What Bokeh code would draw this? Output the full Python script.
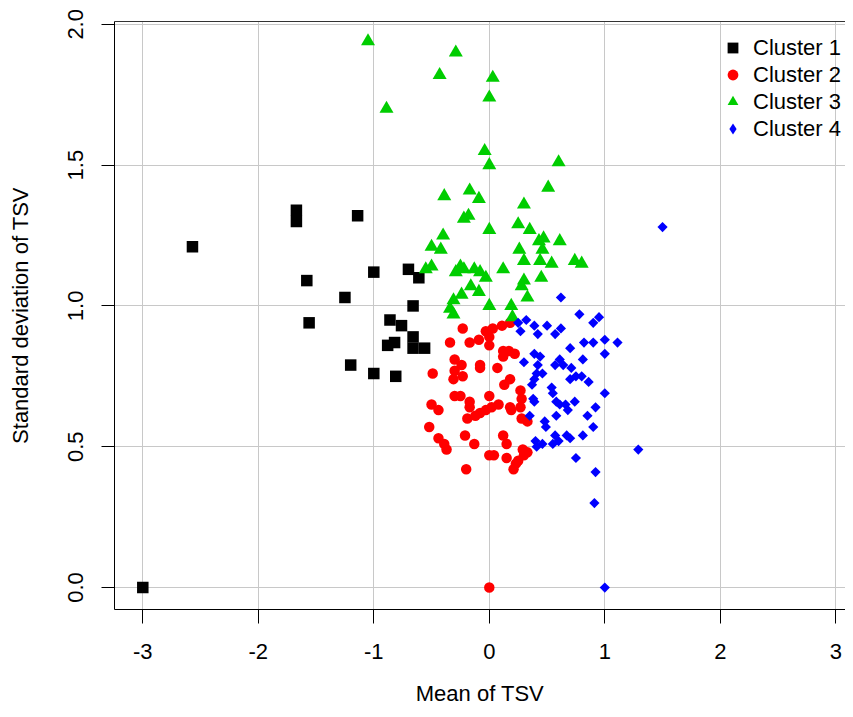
import numpy as np
from bokeh.plotting import figure
from bokeh.models import (Range1d, FixedTicker, PrintfTickFormatter, Legend,
                          LegendItem, LinearAxis)
from bokeh.embed import file_html
from bokeh.resources import INLINE

# ---------------- data ----------------
labels = ["Cluster 1", "Cluster 2", "Cluster 3", "Cluster 4"]
x_ticks = [-3, -2, -1, 0, 1, 2, 3]
y_ticks = [0.0, 0.5, 1.0, 1.5, 2.0]

c1_x = [-2.57, -1.67, -1.67, -1.14, -1.00, -0.70, -0.61, -1.58, -1.25, -0.66,
        -1.56, -0.86, -0.76, -0.82, -0.88, -0.66, -0.66, -0.56, -1.20, -1.00,
        -0.81, -3.00]
c1_y = [1.21, 1.34, 1.30, 1.32, 1.12, 1.13, 1.10, 1.09, 1.03, 1.00,
        0.94, 0.95, 0.93, 0.87, 0.86, 0.89, 0.85, 0.85, 0.79, 0.76,
        0.75, 0.00]

c2_x = [-0.23, -0.03, 0.03, 0.00, 0.11, 0.18, -0.34, -0.17, -0.09, 0.00,
        0.12, 0.17, 0.22, 0.12, -0.30, -0.24, -0.30, -0.08, -0.08, 0.07,
        -0.49, -0.31, -0.23, 0.18, 0.13, 0.27, -0.30, -0.25, -0.17, 0.00,
        0.08, 0.28, -0.50, -0.44, -0.17, 0.02, -0.03, -0.08, -0.12, -0.19,
        0.18, 0.19, 0.27, 0.28, 0.33, -0.52, -0.21, 0.12, -0.44, -0.39,
        -0.37, -0.13, 0.15, 0.29, 0.33, 0.30, 0.00, 0.04, 0.15, 0.25,
        0.23, 0.21, -0.20, 0.00]
c2_y = [0.92, 0.91, 0.92, 0.89, 0.93, 0.94, 0.87, 0.87, 0.88, 0.86,
        0.84, 0.84, 0.83, 0.82, 0.81, 0.79, 0.77, 0.79, 0.78, 0.78,
        0.76, 0.74, 0.75, 0.74, 0.72, 0.70, 0.68, 0.68, 0.66, 0.68,
        0.65, 0.67, 0.65, 0.63, 0.64, 0.64, 0.63, 0.62, 0.61, 0.60,
        0.64, 0.63, 0.64, 0.60, 0.59, 0.57, 0.54, 0.54, 0.53, 0.51,
        0.49, 0.51, 0.51, 0.49, 0.48, 0.47, 0.47, 0.47, 0.46, 0.45,
        0.44, 0.42, 0.42, 0.00]

c3_x = [-1.05, -0.29, -0.43, 0.03, 0.00, -0.89, -0.04, 0.00, 0.60, 0.51,
        -0.17, -0.39, -0.09, 0.30, -0.22, -0.18, 0.00, 0.25, 0.35, -0.40,
        -0.50, -0.42, 0.43, 0.47, 0.46, 0.61, 0.26, 0.30, 0.44, 0.54,
        0.74, 0.80, -0.50, -0.55, -0.25, -0.22, -0.29, -0.13, -0.08, -0.03,
        0.12, 0.45, 0.30, 0.28, -0.16, -0.09, -0.24, -0.31, 0.33, -0.34,
        -0.31, 0.00, 0.19, 0.20]
c3_y = [1.94, 1.90, 1.82, 1.81, 1.74, 1.70, 1.55, 1.50, 1.51, 1.42,
        1.41, 1.39, 1.38, 1.36, 1.31, 1.32, 1.27, 1.29, 1.27, 1.25,
        1.21, 1.20, 1.23, 1.24, 1.20, 1.23, 1.20, 1.16, 1.16, 1.15,
        1.16, 1.15, 1.14, 1.13, 1.14, 1.13, 1.12, 1.13, 1.12, 1.10,
        1.13, 1.10, 1.09, 1.07, 1.07, 1.05, 1.04, 1.02, 1.03, 0.99,
        0.97, 1.00, 1.00, 0.96]

c4_x = [0.62, 0.78, 0.90, 0.95, 0.25, 0.32, 0.39, 0.50, 0.27, 0.42,
        0.57, 0.62, 0.82, 0.90, 1.00, 1.11, 1.00, 0.70, 0.81, 0.30,
        0.39, 0.44, 0.42, 0.57, 0.61, 0.64, 0.71, 0.46, 0.41, 0.75,
        0.80, 0.70, 0.86, 0.39, 0.37, 0.54, 0.55, 1.00, 0.38, 0.39,
        0.58, 0.61, 0.74, 0.66, 0.68, 0.58, 0.92, 0.35, 0.85, 0.48,
        0.49, 0.90, 0.81, 0.67, 0.70, 0.57, 0.60, 0.55, 0.40, 0.46,
        0.41, 0.75, 1.29, 0.92, 0.91, 1.50, 1.00]
c4_y = [1.03, 0.97, 0.94, 0.96, 0.94, 0.95, 0.93, 0.93, 0.91, 0.90,
        0.90, 0.92, 0.87, 0.87, 0.88, 0.87, 0.83, 0.85, 0.81, 0.80,
        0.83, 0.82, 0.79, 0.79, 0.81, 0.79, 0.78, 0.76, 0.76, 0.75,
        0.75, 0.74, 0.73, 0.74, 0.72, 0.71, 0.69, 0.69, 0.67, 0.66,
        0.66, 0.65, 0.66, 0.65, 0.63, 0.61, 0.64, 0.61, 0.61, 0.59,
        0.57, 0.57, 0.54, 0.54, 0.53, 0.54, 0.52, 0.51, 0.52, 0.51,
        0.50, 0.46, 0.49, 0.41, 0.30, 1.28, 0.00]

FONT = "Liberation Sans"
BLACK, RED, GREEN, BLUE = "#000000", "#FF0000", "#00CD00", "#0000FF"

p = figure(width=845, height=709, output_backend="svg", toolbar_location=None,
           x_range=Range1d(-3.245, 3.084), y_range=Range1d(-0.078, 2.010),
           min_border_left=114, min_border_right=0, min_border_top=21,
           min_border_bottom=100)
p.outline_line_color = None
p.background_fill_color = "white"

# axes
for ax in (p.xaxis[0], p.yaxis[0]):
    ax.axis_line_color = "black"
    ax.axis_line_width = 1
    ax.major_tick_line_color = "black"
    ax.major_tick_line_width = 1
    ax.major_tick_in = 0
    ax.minor_tick_line_color = None
    ax.major_label_text_font = FONT
    ax.major_label_text_font_size = "22px"
    ax.major_label_text_color = "black"
    ax.axis_label_text_font = FONT
    ax.axis_label_text_font_size = "22px"
    ax.axis_label_text_font_style = "normal"
    ax.axis_label_text_color = "black"

p.xaxis.ticker = FixedTicker(ticks=x_ticks)
p.xaxis.formatter = PrintfTickFormatter(format="%d")
p.xaxis.major_tick_out = 14
p.xaxis.major_label_standoff = 20
p.xaxis.axis_label = "Mean of TSV"
p.xaxis.axis_label_standoff = 19

p.yaxis.ticker = FixedTicker(ticks=y_ticks)
p.yaxis.formatter = PrintfTickFormatter(format="%.1f")
p.yaxis.major_tick_out = 13
p.yaxis.major_label_standoff = 18
p.yaxis.major_label_orientation = "vertical"
p.yaxis.axis_label = "Standard deviation of TSV"
p.yaxis.axis_label_standoff = 33

# top border of the box
top = LinearAxis(ticker=FixedTicker(ticks=[]), axis_line_color="#333333",
                 axis_line_width=1, major_tick_out=0, major_tick_in=0,
                 minor_tick_out=0, minor_tick_in=0,
                 major_label_text_font_size="0px", major_label_standoff=0)
p.add_layout(top, "above")

# grid
p.xgrid.grid_line_color = "#C8C8C8"
p.ygrid.grid_line_color = "#C8C8C8"
p.xgrid.grid_line_width = 1
p.ygrid.grid_line_width = 1

# points
r1 = p.scatter(c1_x, c1_y, marker="square", size=11.5, fill_color=BLACK, line_color=None)
r2 = p.scatter(c2_x, c2_y, marker="circle", size=10.5, fill_color=RED, line_color=None)
r3 = p.scatter(c3_x, c3_y, marker="triangle", size=14, fill_color=GREEN, line_color=None)
r4 = p.scatter(c4_x, c4_y, marker="square", angle=np.pi / 4, size=7.2,
               fill_color=BLUE, line_color=None)
# legend-only glyph for the diamond symbol (legend ignores marker angle);
# its single point is NaN, so nothing is drawn in the plot area
r4_key = p.scatter([float("nan")], [float("nan")], marker="diamond", size=11,
                   fill_color=BLUE, line_color=None)

legend = Legend(items=[LegendItem(label=labels[0], renderers=[r1]),
                       LegendItem(label=labels[1], renderers=[r2]),
                       LegendItem(label=labels[2], renderers=[r3]),
                       LegendItem(label=labels[3], renderers=[r4_key])],
                location=(605, 467), padding=0, margin=0, spacing=0,
                glyph_width=27, glyph_height=27, label_height=27,
                label_standoff=7, label_text_font=FONT,
                label_text_font_size="22px", label_text_color="black",
                background_fill_alpha=0, border_line_color=None)
p.add_layout(legend)

open("out.html", "w").write(file_html(p, INLINE))
